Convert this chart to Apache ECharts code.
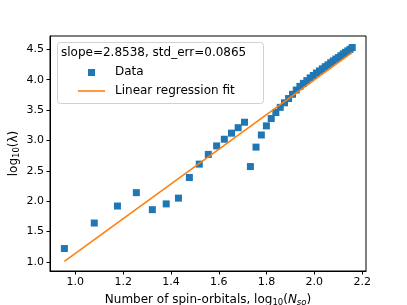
<!DOCTYPE html>
<html><head><meta charset="utf-8">
<script src="https://cdn.jsdelivr.net/npm/echarts@6/dist/echarts.min.js"></script>
<style>html,body{margin:0;padding:0;background:#fff}#c{width:407px;height:305px}</style>
</head><body><div id="c"></div>
<script>
// log10(N_so)
const xData = [0.9542,1.0792,1.1761,1.2553,1.3222,1.3802,1.4314,1.4771,1.5185,1.5563,1.5911,1.6232,1.6532,1.6812,1.7076,1.7324,1.7559,1.7782,1.7993,1.8195,1.8388,1.8573,1.8751,1.8921,1.9085,1.9243,1.9395,1.9542,1.9685,1.9823,1.9956,2.0086,2.0212,2.0334,2.0453,2.0569,2.0682,2.0792,2.0899,2.1004,2.1106,2.1206,2.1303,2.1399,2.1492,2.1584];
// log10(lambda)
const yData = [1.22,1.64,1.92,2.14,1.86,1.955,2.05,2.39,2.61,2.77,2.91,3.02,3.12,3.21,3.30,2.57,2.89,3.09,3.24,3.36,3.46,3.545,3.62,3.69,3.76,3.83,3.89,3.94,3.985,4.03,4.07,4.11,4.145,4.18,4.215,4.245,4.28,4.31,4.34,4.365,4.395,4.425,4.45,4.475,4.50,4.53];
const fitX = [0.9542, 2.1584];
const fitY = [1.01, 4.45];
const xTicks = [1.0,1.2,1.4,1.6,1.8,2.0,2.2];
const yTicks = [1.0,1.5,2.0,2.5,3.0,3.5,4.0,4.5];
const legendTitle = 'slope=2.8538, std_err=0.0865';
const seriesNames = ['Data','Linear regression fit'];

const FONT = 'DejaVu Sans';
const chart = echarts.init(document.getElementById('c'), null, {renderer:'canvas'});
const pts = xData.map((x,i)=>[x,yData[i]]);
const fit = fitX.map((x,i)=>[x,fitY[i]]);
chart.setOption({
  animation:false,
  backgroundColor:'#fff',
  grid:{left:50,right:41,top:36,bottom:34,containLabel:false,outerBoundsMode:'none',
        show:true,borderColor:'#000',borderWidth:1,backgroundColor:'transparent'},
  xAxis:{type:'value',min:0.894,max:2.216,
    axisLine:{show:true,onZero:false,lineStyle:{color:'#000',width:1}},
    axisTick:{show:true,length:3.5,customValues:xTicks,lineStyle:{color:'#000'}},
    axisLabel:{customValues:xTicks,formatter:v=>v.toFixed(1),color:'#000',fontFamily:FONT,fontSize:11,margin:6},
    splitLine:{show:false},
    name:'{a|Number of spin-orbitals, log}{s|10}{a|(}{i|N}{si|so}{a|)}',
    nameLocation:'middle',nameGap:21,nameMoveOverlap:false,
    nameTextStyle:{rich:{
      a:{fontFamily:FONT,fontSize:12,color:'#000'},
      s:{fontFamily:FONT,fontSize:8.5,color:'#000',verticalAlign:'bottom',padding:[6,0,0,0]},
      i:{fontFamily:FONT,fontSize:12,fontStyle:'italic',color:'#000'},
      si:{fontFamily:FONT,fontSize:8.5,fontStyle:'italic',color:'#000',verticalAlign:'bottom',padding:[6,0,0,0]}
    }}
  },
  yAxis:{type:'value',min:0.85,max:4.72,
    axisLine:{show:true,onZero:false,lineStyle:{color:'#000',width:1}},
    axisTick:{show:true,length:3.5,customValues:yTicks,lineStyle:{color:'#000'}},
    axisLabel:{customValues:yTicks,formatter:v=>v.toFixed(1),color:'#000',fontFamily:FONT,fontSize:11,margin:6},
    splitLine:{show:false},
    name:'{a|log}{s|10}{a|(λ)}',
    nameLocation:'middle',nameGap:29,nameRotate:90,nameMoveOverlap:false,
    nameTextStyle:{rich:{
      a:{fontFamily:FONT,fontSize:12,color:'#000'},
      s:{fontFamily:FONT,fontSize:8.5,color:'#000',verticalAlign:'bottom',padding:[6,0,0,0]}
    }}
  },
  series:[
    {name:seriesNames[0],type:'scatter',data:pts,symbol:'rect',symbolSize:7,
     itemStyle:{color:'#1f77b4',opacity:1},z:2},
    {name:seriesNames[1],type:'line',data:fit,symbol:'none',
     lineStyle:{color:'#ff7f0e',width:1.6},z:3}
  ],
  graphic:[
    {type:'rect',left:57,top:42,shape:{width:206,height:61,r:3},
     style:{fill:'rgba(255,255,255,0.8)',stroke:'#d0d0d0',lineWidth:1},z:10},
    {type:'text',left:61,top:47,style:{text:legendTitle,font:'12px "DejaVu Sans"',fill:'#000'},z:11},
    {type:'rect',left:88,top:69,shape:{width:7,height:7},style:{fill:'#1f77b4'},z:11},
    {type:'text',left:115,top:66,style:{text:seriesNames[0],font:'12px "DejaVu Sans"',fill:'#000'},z:11},
    {type:'line',shape:{x1:78,y1:91,x2:105,y2:91},style:{stroke:'#ff7f0e',lineWidth:1.6},z:11},
    {type:'text',left:115,top:85,style:{text:seriesNames[1],font:'12px "DejaVu Sans"',fill:'#000'},z:11}
  ]
});
</script></body></html>
